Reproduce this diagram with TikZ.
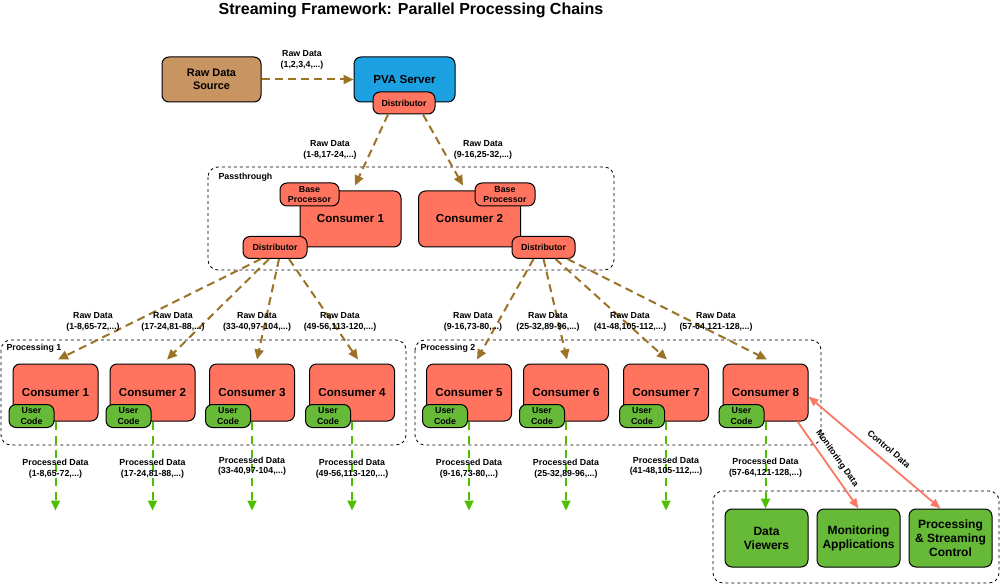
\documentclass[tikz,border=0pt]{standalone}
\usepackage{fontspec}
\setmainfont{Liberation Sans}
\usetikzlibrary{arrows.meta,positioning,calc}
\definecolor{rawbrown}{RGB}{155,115,38}
\definecolor{srcbrown}{RGB}{200,148,98}
\definecolor{pvablue}{RGB}{27,161,226}
\definecolor{consred}{RGB}{255,115,95}
\definecolor{codegreen}{RGB}{102,186,56}
\definecolor{outgreen}{RGB}{77,190,0}
\definecolor{ctlred}{RGB}{250,120,100}
\tikzset{
    box/.style={draw=black,line width=1pt,rounded corners=7pt,align=center,inner sep=1pt},
    big font/.style={font=\fontsize{11.6}{13.5}\selectfont\bfseries},
    small font/.style={font=\fontsize{8.8}{10.5}\selectfont\bfseries},
    consumer/.style={box,big font,fill=consred,minimum width=85pt,minimum height=57pt},
    usercode/.style={box,small font,fill=codegreen,minimum width=45pt,minimum height=23pt,inner sep=0pt},
    tagbox/.style={box,small font,fill=consred,minimum height=22pt,inner sep=0pt},
    sink/.style={box,fill=codegreen,font=\fontsize{12}{14}\selectfont\bfseries,minimum width=83pt,minimum height=58pt},
    group/.style={draw,dashed,line width=.8pt,rounded corners=10pt},
    lbl/.style={small font,align=center,inner sep=0pt,text=black},
    rawarr/.style={-{Triangle[length=10pt,width=9pt]},rawbrown,line width=2pt,dash pattern=on 8pt off 5pt},
    procarr/.style={-{Triangle[length=10pt,width=9pt]},outgreen,line width=2pt,dash pattern=on 8pt off 6pt},
    ctlarr/.style={-{Triangle[length=10pt,width=8pt]},ctlred,line width=1.8pt},
}
\begin{document}
\begin{tikzpicture}[x=1pt,y=-1pt]
    \useasboundingbox (0,0) rectangle (1001,585);
    \node[font=\fontsize{16}{18}\selectfont\bfseries] (title) at (411,10) {Streaming Framework: Parallel Processing Chains};

    % source and server
    \node[box,fill=srcbrown,minimum width=99pt,minimum height=45pt,font=\fontsize{10.9}{12.5}\selectfont\bfseries] (src) at (211.5,79.5) {Raw Data\\Source};
    \node[box,fill=pvablue,minimum width=101pt,minimum height=45pt,big font] (pva) at (404.5,79.5) {PVA Server};
    \node[tagbox,minimum width=62pt] (pvd) at (404,103) {Distributor};
    \draw[rawarr] (src) -- (pva);
    \node[lbl] (lsrc) at (302,60) {Raw Data\\(1,2,3,4,...)};

    % passthrough
    \draw[group] (208,167) rectangle (614,270);
    \node[small font,anchor=west] (lpass) at (215,177) {Passthrough};
    \node[consumer,minimum width=101pt,minimum height=56pt] (p1) at (350.5,219) {Consumer 1};
    \node[consumer,minimum width=102pt,minimum height=56pt] (p2) at (469.5,219) {Consumer 2};
    \node[tagbox,minimum width=59pt,minimum height=23pt] (bp1) at (309.5,194.5) {Base\\Processor};
    \node[tagbox,minimum width=60pt,minimum height=23pt] (bp2) at (505,194.5) {Base\\Processor};
    \node[tagbox,minimum width=64pt] (pd1) at (275,247.5) {Distributor};
    \node[tagbox,minimum width=63pt] (pd2) at (543.5,247.5) {Distributor};
    \draw[rawarr] ([xshift=-16pt]pvd.south) -- ([xshift=4.5pt,yshift=5pt]p1.north);
    \draw[rawarr] ([xshift=19pt]pvd.south) -- ([xshift=-6.5pt,yshift=5pt]p2.north);
    \node[lbl] (lp1) at (330,150) {Raw Data\\(1-8,17-24,...)};
    \node[lbl] (lp2) at (483,150) {Raw Data\\(9-16,25-32,...)};

    % processing groups
    \draw[group] (1,340) rectangle (406,445);
    \draw[group] (415,340) rectangle (821,445);
    \node[small font,anchor=west] (lproc1) at (3,348) {Processing 1};
    \node[small font,anchor=west] (lproc2) at (417,348) {Processing 2};
    \foreach \i/\x in {1/55.5,2/152.5,3/252,4/352,5/469,6/566,7/666,8/765.5} {
        \node[consumer] (c\i) at (\x,392.5) {Consumer \i};
        \node[usercode] (u\i) at ($(c\i.south west)+(19,-5.5)$) {User\\Code};
    }

    % raw data to consumers
    \foreach \i/\s/\t in {1/-14/2.5,2/-6/14.5,3/4/5,4/14/6}
        \draw[rawarr] ([xshift=\s pt]pd1.south) -- ([xshift=\t pt,yshift=4pt]c\i.north);
    \foreach \i/\s/\t in {5/-10/8,6/0/1,7/12/1,8/24/1.5}
        \draw[rawarr] ([xshift=\s pt]pd2.south) -- ([xshift=\t pt,yshift=4pt]c\i.north);
    \foreach \i/\x/\txt in {1/93/{1-8,65-72,...},2/173/{17-24,81-88,...},3/257/{33-40,97-104,...},4/340/{49-56,113-120,...},5/473/{9-16,73-80,...},6/548/{25-32,89-96,...},7/630/{41-48,105-112,...},8/716/{57-64,121-128,...}}
        \node[lbl] (lr\i) at (\x,322) {Raw Data\\(\txt)};

    % outputs
    \draw[group] (713,491) rectangle (999,583);
    \node[sink] (dv) at (766.5,538) {Data\\Viewers};
    \node[sink] (ma) at (858.5,538) {Monitoring\\Applications};
    \node[sink] (psc) at (950.5,538) {Processing\\\& Streaming\\Control};

    \foreach \i/\txt/\p in {1/{1-8,65-72,...}/.53,2/{17-24,81-88,...}/.53,3/{33-40,97-104,...}/.5,4/{49-56,113-120,...}/.53,5/{9-16,73-80,...}/.53,6/{25-32,89-96,...}/.53,7/{41-48,105-112,...}/.5} {
        \coordinate (o\i) at ($(c\i.south)+(0,89)$);
        \draw[procarr] (c\i.south) -- (o\i) node[lbl,pos=\p] {Processed Data\\(\txt)};
    }
    \draw[procarr] (c8.south) -- (c8.south |- dv.north) node[lbl,pos=.53] {Processed Data\\(57-64,121-128,...)};

    \draw[ctlarr] ([xshift=32pt]c8.south) -- (ma.north) node[lbl,midway,sloped,above=6pt] {Monitoring Data};
    \draw[ctlarr,{Triangle[length=10pt,width=8pt]}-{Triangle[length=10pt,width=8pt]}] ([yshift=-4pt]c8.east) -- ([xshift=-10pt]psc.north) node[lbl,pos=.55,sloped,above=8pt] {Control Data};
\end{tikzpicture}
\end{document}
